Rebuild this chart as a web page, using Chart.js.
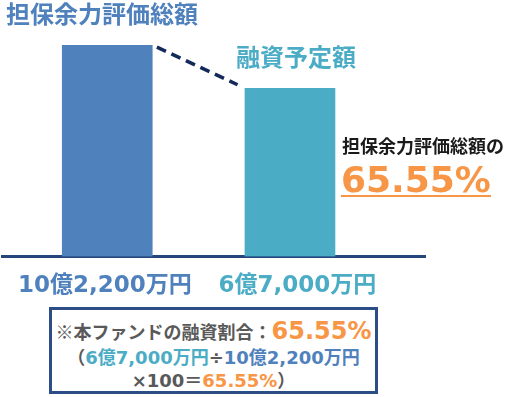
<!DOCTYPE html>
<html>
<head>
<meta charset="utf-8">
<script src="https://cdn.jsdelivr.net/npm/chart.js@4.4.1/dist/chart.umd.min.js"></script>
<style>
html,body{margin:0;padding:0;background:#fff;}
#wrap{position:relative;width:508px;height:397px;overflow:hidden;font-family:"DejaVu Sans","Noto Sans CJK JP",sans-serif;font-weight:bold;}
#c{position:absolute;left:0;top:0;}
.t{position:absolute;white-space:nowrap;}
.jp{font-family:"Noto Sans CJK JP",sans-serif;}
.blue{color:#4f81bd;}
.teal{color:#4bacc6;}
.orange{color:#f79646;}
.gray{color:#595959;}
#box{position:absolute;left:49px;top:307px;width:329px;height:87px;box-sizing:border-box;border:3px solid #2c4d86;background:#fff;}
.bl{position:absolute;left:49px;width:329px;text-align:center;white-space:nowrap;}
</style>
</head>
<body>
<div id="wrap">
<canvas id="c" width="508" height="397"></canvas>
<div class="t jp blue" style="left:6px;top:1px;font-size:24px;line-height:24px;">担保余力評価総額</div>
<div class="t jp teal" style="left:236px;top:43.5px;font-size:24px;line-height:24px;">融資予定額</div>
<div class="t jp" style="left:342px;top:135.5px;font-size:18px;line-height:18px;color:#1a1a1a;">担保余力評価総額の</div>
<div class="t orange" style="left:341px;top:161.5px;font-size:36px;line-height:36px;text-decoration:underline;text-decoration-thickness:2px;text-underline-offset:3px;">65.55%</div>
<div id="box"></div>
<div class="bl" style="top:315.7px;font-size:18px;line-height:30px;"><span class="jp gray">※本ファンドの融資割合：</span><span class="orange" style="font-size:24px;">65.55%</span></div>
<div class="bl" style="top:344px;font-size:18px;line-height:24px;"><span class="jp gray">（</span><span class="teal">6億7,000万円</span><span class="gray">÷</span><span class="blue">10億2,200万円</span></div>
<div class="bl" style="top:367px;font-size:18px;line-height:24px;"><span class="gray">×100</span><span class="jp gray">＝</span><span class="orange">65.55%</span><span class="jp gray">）</span></div>
</div>
<script>
// Data (億円)
const categories = ['10億2,200万円', '6億7,000万円'];
const seriesNames = ['担保余力評価総額', '融資予定額'];
const values = [10.22, 6.7];

// Styling
const barColors = ['#4f81bd', '#4bacc6'];
const labelColors = ['#4f81bd', '#4bacc6'];
const axisFloor = -7;           // visual base of the bars
const tickPositions = [-0.0126, 1.041];

const connector = {
  id: 'connector',
  afterDatasetsDraw(chart) {
    const bars = chart.getDatasetMeta(0).data;
    if (bars.length < 2) return;
    const a = bars[0], b = bars[1];
    const x1 = a.x + a.width / 2, y1 = a.y;
    const x2 = b.x - b.width / 2, y2 = b.y;
    const t0 = 0.05, t1 = 0.92;
    const ctx = chart.ctx;
    ctx.save();
    ctx.setLineDash([10, 6]);
    ctx.lineWidth = 3.5;
    ctx.strokeStyle = '#13295a';
    ctx.beginPath();
    ctx.moveTo(x1 + (x2 - x1) * t0, y1 + (y2 - y1) * t0);
    ctx.lineTo(x1 + (x2 - x1) * t1, y1 + (y2 - y1) * t1);
    ctx.stroke();
    ctx.restore();
  }
};

new Chart(document.getElementById('c'), {
  type: 'bar',
  data: {
    datasets: [{
      label: seriesNames.join(' / '),
      data: values.map((v, i) => ({ x: i, y: v })),
      backgroundColor: barColors,
      borderWidth: 0,
      barThickness: 90,
      base: axisFloor
    }]
  },
  options: {
    responsive: false,
    animation: false,
    devicePixelRatio: 1,
    layout: { padding: { left: 2, right: 83, top: 45, bottom: 81 } },
    plugins: { legend: { display: false }, tooltip: { enabled: false }, title: { display: false } },
    scales: {
      x: {
        type: 'linear',
        min: -0.576,
        max: 1.739,
        offset: false,
        grid: { display: false, drawTicks: false, offset: false },
        border: { display: true, color: '#24467c', width: 3 },
        afterBuildTicks: s => { s.ticks = tickPositions.map(v => ({ value: v })); },
        ticks: {
          autoSkip: false,
          maxRotation: 0,
          padding: 16,
          color: c => labelColors[c.index],
          font: { size: 23, weight: 'bold', family: '"DejaVu Sans", "Noto Sans CJK JP", sans-serif' },
          callback: (v, i) => categories[i]
        }
      },
      y: {
        display: false,
        min: axisFloor,
        max: 10.22
      }
    }
  },
  plugins: [connector]
});
</script>
</body>
</html>
